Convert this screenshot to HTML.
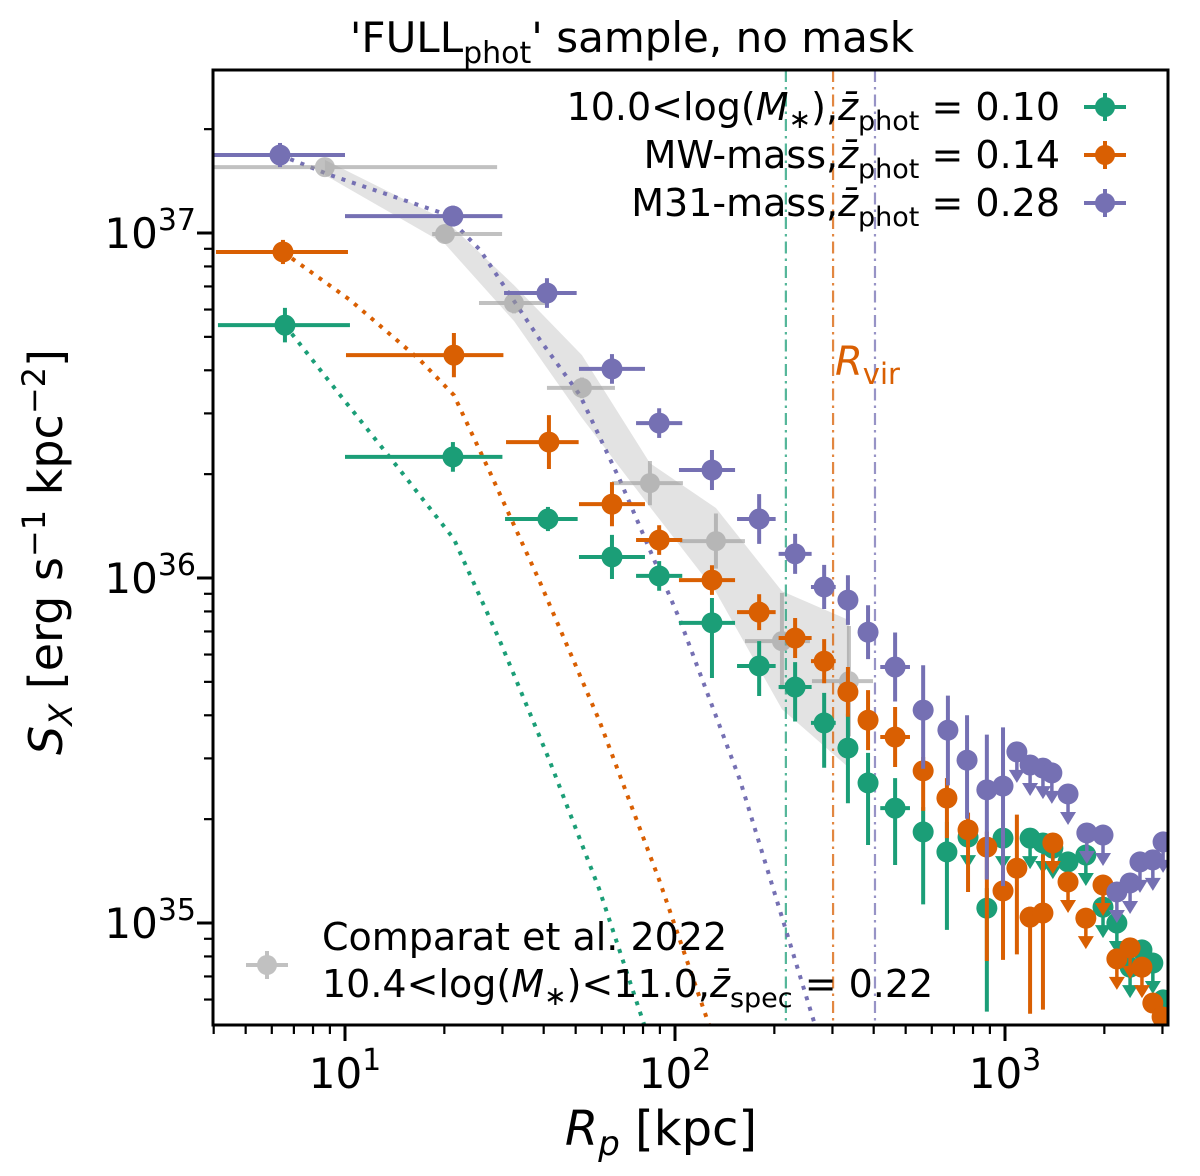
<!DOCTYPE html>
<html><head><meta charset="utf-8"><style>
html,body{margin:0;padding:0;background:#fff;}
svg{display:block;font-family:"DejaVu Sans","Liberation Sans",sans-serif;}
</style></head><body>
<svg id="chart" width="1200" height="1176" viewBox="0 0 1200 1176" xmlns="http://www.w3.org/2000/svg">
<g id="grid"></g><g id="band"></g><g id="vlines"></g><g id="models"></g><g id="gray"></g><g id="series"></g><g id="axes"></g><g id="texts"></g>
</svg>
<script>
// ---- data (log10 R [kpc], log10 S_X) ----
const purpleLogR=[0.803,1.327,1.612,1.809,1.952,2.112,2.255,2.364,2.452,2.524,2.585,2.667,2.752,2.827,2.885,2.945,2.994,3.036,3.076,3.115,3.142,3.191,3.248,3.297,3.339,3.379,3.409,3.448,3.479];
const purpleLogS=[37.226,37.049,36.826,36.606,36.449,36.313,36.171,36.070,35.974,35.936,35.843,35.742,35.617,35.559,35.472,35.386,35.397,35.496,35.458,35.449,35.435,35.374,35.261,35.255,35.090,35.116,35.177,35.183,35.235];
const purpleErrUp=[.035,.03,.043,.043,.043,.058,.072,.058,.064,.072,.078,.1,.13,.1,.13,.16,.17,0,0,0,0,0,0,0,0,0,0,0,0];
const purpleErrDn=[.035,.03,.043,.043,.043,.058,.072,.058,.064,.072,.078,.1,.17,.16,.17,.26,.29,0,0,0,0,0,0,0,0,0,0,0,0];
const purpleUL=[0,0,0,0,0,0,0,0,0,0,0,0,0,0,0,0,0,1,1,1,1,1,1,1,1,1,1,1,1];

const orangeLogR=[0.812,1.330,1.618,1.809,1.952,2.112,2.255,2.364,2.452,2.524,2.585,2.667,2.752,2.824,2.888,2.945,2.994,3.036,3.076,3.115,3.145,3.191,3.245,3.297,3.339,3.379,3.415,3.448,3.476];
const orangeLogS=[36.945,36.646,36.394,36.214,36.110,35.994,35.901,35.826,35.759,35.670,35.588,35.539,35.441,35.362,35.270,35.220,35.093,35.159,35.017,35.029,35.232,35.119,35.014,35.110,34.896,34.928,34.872,34.768,34.728];
const orangeErrUp=[.035,.064,.078,.064,.043,.043,.052,.058,.064,.072,.087,.087,.04,.058,.05,.045,.058,.155,.03,.17,0,0,0,0,0,0,0,0,0];
const orangeErrDn=[.035,.064,.078,.064,.043,.043,.052,.058,.064,.072,.087,.087,.116,.116,.18,.33,.2,.25,.28,.28,0,0,0,0,0,0,0,0,0];
const orangeUL=[0,0,0,0,0,0,0,0,0,0,0,0,0,0,0,0,0,0,0,0,1,1,1,1,1,1,1,0,0];

const greenLogR=[0.818,1.327,1.615,1.809,1.952,2.112,2.255,2.364,2.452,2.524,2.585,2.667,2.752,2.824,2.888,2.945,2.994,3.076,3.115,3.145,3.191,3.245,3.297,3.339,3.379,3.415,3.448,3.479];
const greenLogS=[36.733,36.351,36.171,36.061,36.006,35.870,35.745,35.684,35.580,35.507,35.406,35.333,35.264,35.206,35.249,35.043,35.246,35.246,35.232,35.217,35.177,35.197,35.046,35.000,34.872,34.922,34.884,34.777];
const greenErrUp=[.05,.043,.035,.064,.043,.072,.072,.072,.087,.1,.087,.087,.072,.087,0,.058,0,0,0,0,0,0,0,0,0,0,0,0];
const greenErrDn=[.05,.043,.035,.064,.043,.16,.087,.1,.13,.16,.18,.165,.21,.226,0,.3,0,0,0,0,0,0,0,0,0,0,0,0];
const greenUL=[0,0,0,0,0,0,0,0,0,0,0,0,0,0,1,0,1,1,1,1,1,1,1,1,1,0,1,0];

// shared x half-widths in dex, by bin index
const xErrLo=[0.203,0.327,0.13,0.10,0.07,0.10,0.067,0.05,0.04,0.03,0.025,0.045,0.025,0.025,0.025];
const xErrHi=[0.197,0.15,0.09,0.10,0.07,0.07,0.05,0.05,0.035,0.03,0.025,0.045,0.025,0.025,0.025];

// Comparat et al. 2022
const grayLogR=[0.939,1.303,1.512,1.718,1.924,2.124,2.324,2.527];
const grayLogS=[37.191,36.997,36.797,36.551,36.275,36.107,35.817,35.701];
const grayXLo=[0.6,1.264,1.406,1.612,1.809,2.015,2.212,2.415];
const grayXHi=[1.461,1.476,1.606,1.818,2.024,2.212,2.409,2.6];
const grayErr=[.02,.02,.03,.03,.064,.08,.14,.16];
const bandHi=[37.212,37.038,36.849,36.646,36.333,36.203,35.962,35.878];
const bandLo=[37.168,36.968,36.745,36.464,36.206,35.959,35.620,35.450];

// projected model profiles (dotted)
const modelGreenR=[0.818,0.982,1.164,1.330,1.467,1.618,1.770,1.906];
const modelGreenS=[36.733,36.534,36.316,36.113,35.823,35.475,35.099,34.707];
const modelOrangeR=[0.812,1.015,1.227,1.330,1.436,1.588,1.770,1.952,2.103];
const modelOrangeS=[36.945,36.806,36.632,36.530,36.313,35.994,35.588,35.125,34.705];
const modelPurpleR=[0.803,0.955,1.303,1.409,1.591,1.712,1.833,2.015,2.197,2.424];
const modelPurpleS=[37.226,37.168,37.055,36.951,36.690,36.530,36.284,35.878,35.414,34.705];

const rvirLogR=[2.336,2.479,2.606];
const yTicks=[35,36,37];
const xTicks=[1,2,3];

const C={green:'#1b9e77',orange:'#d95f02',purple:'#7570b3',gray:'#999999'};
const X=l=>345+(l-1)*330, Y=l=>233-(l-37)*345;
const L=0.6, R=3.494, B=34.704, T=37.473;
const NS='http://www.w3.org/2000/svg';
function mk(parent,tag,attrs){const e=document.createElementNS(NS,tag);for(const k in attrs)e.setAttribute(k,attrs[k]);document.getElementById(parent).appendChild(e);return e;}
const clip=mk('grid','clipPath',{id:'pc'});
const cr=document.createElementNS(NS,'rect');cr.setAttribute('x',213);cr.setAttribute('y',70);cr.setAttribute('width',955);cr.setAttribute('height',955);clip.appendChild(cr);
['band','vlines','models','gray','series'].forEach(g=>document.getElementById(g).setAttribute('clip-path','url(#pc)'));

let pts=grayLogR.map((r,i)=>X(r)+','+Y(bandHi[i])).concat(grayLogR.map((r,i)=>X(r)+','+Y(bandLo[i])).reverse());
let bp=mk('band','polygon',{points:pts.join(' '),fill:'#e3e3e3'});



const vc=[C.green,C.orange,C.purple];
rvirLogR.forEach((r,i)=>{const l=mk('vlines','line',{x1:X(r),x2:X(r),y1:70,y2:1025,stroke:vc[i],'stroke-width':2.2,'stroke-dasharray':'12,5,2.5,5',opacity:0.75});

});

[[modelGreenR,modelGreenS,C.green],[modelOrangeR,modelOrangeS,C.orange],[modelPurpleR,modelPurpleS,C.purple]].forEach(([rr,ss,c])=>{
 const p=mk('models','polyline',{points:rr.map((r,i)=>X(r)+','+Y(ss[i])).join(' '),fill:'none',stroke:c,'stroke-width':4,'stroke-dasharray':'4,7'});
 
 });

grayLogR.forEach((r,i)=>{const x=X(r),y=Y(grayLogS[i]);
 const g=mk('gray','g',{opacity:0.6});
 
 
 const a=(t,o)=>{const e=document.createElementNS(NS,t);for(const k in o)e.setAttribute(k,o[k]);g.appendChild(e);};
 a('line',{x1:X(grayXLo[i]),x2:X(grayXHi[i]),y1:y,y2:y,stroke:C.gray,'stroke-width':4});
 a('line',{x1:x,x2:x,y1:Y(grayLogS[i]+grayErr[i]),y2:Y(grayLogS[i]-grayErr[i]),stroke:C.gray,'stroke-width':4});
 a('circle',{cx:x,cy:y,r:10,fill:C.gray});
});

function series(rr,ss,up,dn,ul,c,name){
 rr.forEach((r,i)=>{const x=X(r),y=Y(ss[i]);
  const g=mk('series','g',{});
  
  
  const a=(t,o)=>{const e=document.createElementNS(NS,t);for(const k in o)e.setAttribute(k,o[k]);g.appendChild(e);};
  if(i<xErrLo.length&&!ul[i]) a('line',{x1:X(r-xErrLo[i]),x2:X(r+xErrHi[i]),y1:y,y2:y,stroke:c,'stroke-width':4});
  if(!ul[i]) a('line',{x1:x,x2:x,y1:Y(ss[i]+up[i]),y2:Y(ss[i]-dn[i]),stroke:c,'stroke-width':4});
  else {a('line',{x1:x,x2:x,y1:y,y2:y+20,stroke:c,'stroke-width':3.5});a('polygon',{points:(x-8)+','+(y+18)+' '+(x+8)+','+(y+18)+' '+x+','+(y+31),fill:c});}
  a('circle',{cx:x,cy:y,r:10.5,fill:c});
 });
}
series(greenLogR,greenLogS,greenErrUp,greenErrDn,greenUL,C.green,'green');
series(orangeLogR,orangeLogS,orangeErrUp,orangeErrDn,orangeUL,C.orange,'orange');
series(purpleLogR,purpleLogS,purpleErrUp,purpleErrDn,purpleUL,C.purple,'purple');

const fr=mk('axes','rect',{x:213,y:70,width:955,height:955,fill:'none',stroke:'#000','stroke-width':3});


for(let d=0;d<=3;d++)for(let m=1;m<=9;m++){const l=d+Math.log10(m);if(l<L-1e-6||l>R)continue;const x=X(l),len=m===1?16:9;
 mk('axes','line',{x1:x,x2:x,y1:1025,y2:1025+len,stroke:'#000','stroke-width':m===1?3:2.2});}
for(let d=34;d<=37;d++)for(let m=1;m<=9;m++){const l=d+Math.log10(m);if(l<B-1e-6||l>T)continue;const y=Y(l),len=m===1?16:9;
 mk('axes','line',{x1:213-len,x2:213,y1:y,y2:y,stroke:'#000','stroke-width':m===1?3:2.2});}
xTicks.forEach(t=>{const e=mk('texts','text',{x:X(t),y:1088,'text-anchor':'middle','font-size':42});e.innerHTML='10<tspan dy="-18" font-size="30">'+t+'</tspan>';
 
 });
yTicks.forEach(t=>{const e=mk('texts','text',{x:196,y:Y(t)+15,'text-anchor':'end','font-size':42});e.innerHTML='10<tspan dy="-18" font-size="30">'+t+'</tspan>';
 
 });

function handle(x,y,c,op){const g=mk('texts','g',{opacity:op});
 
 
 const a=(t,o)=>{const e=document.createElementNS(NS,t);for(const k in o)e.setAttribute(k,o[k]);g.appendChild(e);};
 a('line',{x1:x-21,x2:x+21,y1:y,y2:y,stroke:c,'stroke-width':4});a('line',{x1:x,x2:x,y1:y-14,y2:y+14,stroke:c,'stroke-width':4});a('circle',{cx:x,cy:y,r:10,fill:c});}
handle(1105,107,C.green,1);handle(1105,155,C.orange,1);handle(1105,203,C.purple,1);handle(267,965,C.gray,0.6);
</script>
<svg width="1200" height="1176" style="position:absolute;left:0;top:0">
<g font-family="DejaVu Sans, Liberation Sans, sans-serif" fill="#000">
<text x="632" y="52" text-anchor="middle" font-size="42">'FULL<tspan dy="11" font-size="30">phot</tspan><tspan dy="-11">' sample, no mask</tspan></text>
<text x="1060" y="120" text-anchor="end" font-size="38">10.0&lt;log(<tspan font-style="italic">M</tspan><tspan dy="8" font-size="27">∗</tspan><tspan dy="-8">),</tspan><tspan font-style="italic">z̄</tspan><tspan dy="10" font-size="27">phot</tspan><tspan dy="-10"> = 0.10</tspan></text>
<text x="1060" y="168" text-anchor="end" font-size="38">MW-mass,<tspan font-style="italic">z̄</tspan><tspan dy="10" font-size="27">phot</tspan><tspan dy="-10"> = 0.14</tspan></text>
<text x="1060" y="216" text-anchor="end" font-size="38">M31-mass,<tspan font-style="italic">z̄</tspan><tspan dy="10" font-size="27">phot</tspan><tspan dy="-10"> = 0.28</tspan></text>
<text x="322" y="950" font-size="38">Comparat et al. 2022</text>
<text x="322" y="997" font-size="38">10.4&lt;log(<tspan font-style="italic">M</tspan><tspan dy="8" font-size="27">∗</tspan><tspan dy="-8">)&lt;11.0,</tspan><tspan font-style="italic">z̄</tspan><tspan dy="10" font-size="27">spec</tspan><tspan dy="-10"> = 0.22</tspan></text>
<text x="835" y="375" font-size="40" fill="#d95f02"><tspan font-style="italic">R</tspan><tspan dy="9" font-size="29">vir</tspan></text>
<text x="661" y="1145" text-anchor="middle" font-size="48"><tspan font-style="italic">R</tspan><tspan dy="10" font-size="34" font-style="italic">p</tspan><tspan dy="-10"> [kpc]</tspan></text>
<text transform="translate(62,552) rotate(-90)" text-anchor="middle" font-size="46"><tspan font-style="italic">S</tspan><tspan dy="10" font-size="32" font-style="italic">X</tspan><tspan dy="-10"> [erg s</tspan><tspan dy="-17" font-size="32">−1</tspan><tspan dy="17"> kpc</tspan><tspan dy="-17" font-size="32">−2</tspan><tspan dy="17">]</tspan></text>
</g></svg>
</body></html>
